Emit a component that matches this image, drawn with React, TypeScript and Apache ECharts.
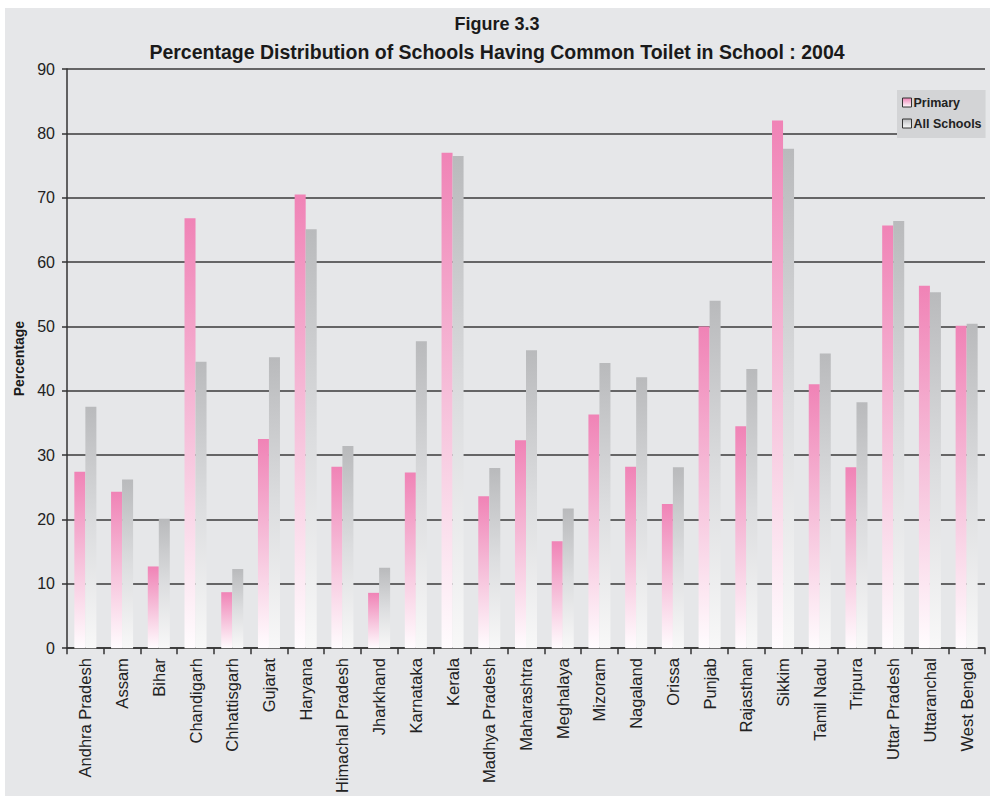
import React, { useEffect, useRef } from "react";
import * as echarts from "echarts";

const categories = [
  "Andhra Pradesh", "Assam", "Bihar", "Chandigarh", "Chhattisgarh", "Gujarat",
  "Haryana", "Himachal Pradesh", "Jharkhand", "Karnataka", "Kerala",
  "Madhya Pradesh", "Maharashtra", "Meghalaya", "Mizoram", "Nagaland", "Orissa",
  "Punjab", "Rajasthan", "Sikkim", "Tamil Nadu", "Tripura", "Uttar Pradesh",
  "Uttaranchal", "West Bengal",
];
const primary = [
  27.4, 24.3, 12.7, 66.8, 8.7, 32.5, 70.5, 28.2, 8.6, 27.3, 77.0, 23.6, 32.3,
  16.6, 36.3, 28.2, 22.4, 50.0, 34.5, 82.0, 41.0, 28.1, 65.7, 56.3, 50.1,
];
const allSchools = [
  37.5, 26.2, 20.1, 44.5, 12.3, 45.2, 65.1, 31.4, 12.5, 47.7, 76.5, 28.0, 46.3,
  21.7, 44.3, 42.1, 28.1, 54.0, 43.4, 77.6, 45.8, 38.2, 66.4, 55.3, 50.4,
];
const titleLine1 = "Figure 3.3";
const titleLine2 = "Percentage Distribution of Schools Having Common Toilet in School : 2004";

export default function App() {
  const ref = useRef<HTMLDivElement>(null);
  useEffect(() => {
    document.body.style.margin = "0";
    const chart = echarts.init(ref.current!, null, { renderer: "svg" });
    const font = "'Liberation Sans', Arial, Helvetica, sans-serif";
    const pinkGrad = new echarts.graphic.LinearGradient(0, 0, 0, 1, [
      { offset: 0, color: "#f083b6" },
      { offset: 0.5, color: "#f6c0da" },
      { offset: 1, color: "#fffcfe" },
    ]);
    const grayGrad = new echarts.graphic.LinearGradient(0, 0, 0, 1, [
      { offset: 0, color: "#b9babc" },
      { offset: 0.5, color: "#dcdddf" },
      { offset: 1, color: "#f8f8f8" },
    ]);
    chart.setOption({
      animation: false,
      backgroundColor: "#ffffff",
      textStyle: { fontFamily: font },
      graphic: [
        {
          type: "rect",
          z: -10,
          silent: true,
          shape: { x: 5, y: 8, width: 985, height: 788 },
          style: { fill: "#e6e7e9" },
        },
      ],
      title: [
        {
          text: titleLine1,
          left: "center",
          top: 10,
          textStyle: { fontFamily: font, fontSize: 18, fontWeight: "bold", color: "#1a1a1a" },
        },
        {
          text: titleLine2,
          left: "center",
          top: 37,
          textStyle: { fontFamily: font, fontSize: 19.5, fontWeight: "bold", color: "#1a1a1a" },
        },
      ],
      legend: {
        orient: "vertical",
        left: 897,
        top: 90,
        width: 88,
        padding: [6, 4, 8, 5],
        itemGap: 8,
        itemWidth: 9,
        itemHeight: 9,
        icon: "rect",
        backgroundColor: "#d3d4d6",
        textStyle: { fontFamily: font, fontSize: 12.5, fontWeight: "bold", color: "#222", padding: [0, 0, 0, -3] },
        data: [
          { name: "Primary", itemStyle: { borderColor: "#333", borderWidth: 1 } },
          { name: "All Schools", itemStyle: { borderColor: "#333", borderWidth: 1 } },
        ],
      },
      grid: { left: 67, top: 69, right: 9, bottom: 146, containLabel: false },
      xAxis: {
        type: "category",
        data: categories,
        axisLine: { lineStyle: { color: "#333", width: 1.5 } },
        axisTick: { show: true, length: 6, lineStyle: { color: "#333", width: 1.5 } },
        axisLabel: {
          rotate: 90,
          interval: 0,
          fontSize: 16.5,
          color: "#222",
          fontFamily: font,
          margin: 10,
        },
      },
      yAxis: {
        type: "value",
        min: 0,
        max: 90,
        interval: 10,
        name: "Percentage",
        nameLocation: "middle",
        nameGap: 40,
        nameTextStyle: { fontFamily: font, fontSize: 14, fontWeight: "bold", color: "#1a1a1a" },
        axisLine: { show: true, lineStyle: { color: "#333", width: 1.5 } },
        axisTick: { show: true, length: 5, lineStyle: { color: "#333", width: 1.5 } },
        axisLabel: { fontSize: 16, color: "#222", fontFamily: font, margin: 12 },
        splitLine: { show: true, lineStyle: { color: "#3a3a3a", width: 1.5 } },
      },
      series: [
        {
          name: "Primary",
          type: "bar",
          data: primary,
          barGap: "0%",
          barCategoryGap: "40%",
          itemStyle: { color: pinkGrad },
        },
        {
          name: "All Schools",
          type: "bar",
          data: allSchools,
          itemStyle: { color: grayGrad },
        },
      ],
    });
    return () => chart.dispose();
  }, []);
  return (
    <div
      ref={ref}
      style={{ position: "absolute", left: 0, top: 0, width: 994, height: 796 }}
    />
  );
}
